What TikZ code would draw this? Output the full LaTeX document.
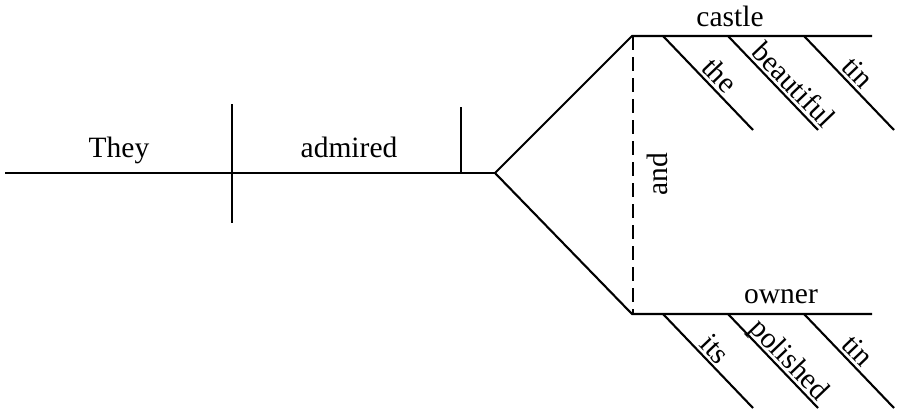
\documentclass[tikz,border=0pt]{standalone}
\usepackage{fontspec}
\setmainfont{Liberation Serif}
\begin{document}
\begin{tikzpicture}[x=1pt,y=-1pt,
  rule/.style={line width=2.1pt,black},
  dashrule/.style={rule,dash pattern=on 14pt off 7pt},
  word/.style={font=\fontsize{29.5}{32}\selectfont,inner sep=0pt},
  slant/.style={word,sloped,above=3pt,text depth=0pt}]
\useasboundingbox (0,0) rectangle (904,408);

% main line: subject | verb | object
\coordinate (start) at (5,173);
\coordinate (subjverb) at (232,173);
\coordinate (svtop) at (232,104);
\coordinate (svbot) at (232,223);
\coordinate (verbobj) at (461,173);
\coordinate (votop) at (461,107);
\coordinate (fork) at (495,173);

% compound object platforms
\coordinate (upL) at (632,36);
\coordinate (upR) at (872,36);
\coordinate (loL) at (632,314);
\coordinate (loR) at (872,314);
\coordinate (dashT) at (633,36);
\coordinate (dashB) at (633,314);

% modifier slants
\coordinate (u1a) at (663,36);  \coordinate (u1b) at (753,130);
\coordinate (u2a) at (728,36);  \coordinate (u2b) at (818,130);
\coordinate (u3a) at (804,36);  \coordinate (u3b) at (894,130);
\coordinate (l1a) at (663,314); \coordinate (l1b) at (753,408);
\coordinate (l2a) at (728,314); \coordinate (l2b) at (818,408);
\coordinate (l3a) at (804,314); \coordinate (l3b) at (894,408);

\draw[rule] (start) -- (fork);
\draw[rule] (svtop) -- (svbot);
\draw[rule] (votop) -- (verbobj);
\draw[rule] (fork) -- (upL) -- (upR);
\draw[rule] (fork) -- (loL) -- (loR);
\draw[dashrule] (dashT) -- (dashB);

\node[word,anchor=base] (they) at (119,157) {They};
\node[word,anchor=base] (admired) at (349,157) {admired};
\node[word,anchor=base] (castle) at (730,26) {castle};
\node[word,anchor=base] (owner) at (781,303) {owner};
\node[word,rotate=90] (and) at (657,174) {and};

\draw[rule] (u1a) -- (u1b) node[slant,pos=0.52] (the) {the};
\draw[rule] (u2a) -- (u2b) node[slant,pos=0.62] (beautiful) {beautiful};
\draw[rule] (u3a) -- (u3b) node[slant,pos=0.49] (tin1) {tin};
\draw[rule] (l1a) -- (l1b) node[slant,pos=0.47] (its) {its};
\draw[rule] (l2a) -- (l2b) node[slant,pos=0.58] (polished) {polished};
\draw[rule] (l3a) -- (l3b) node[slant,pos=0.49] (tin2) {tin};
\end{tikzpicture}
\end{document}
